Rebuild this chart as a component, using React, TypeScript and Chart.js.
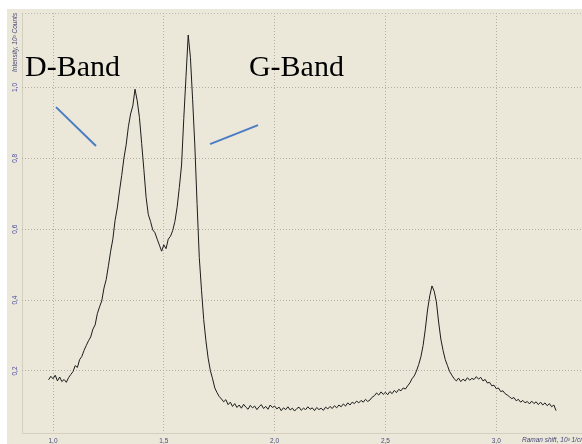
import React, { useEffect, useRef } from "react";
import { Chart, registerables } from "chart.js";

Chart.register(...registerables);

// Raman spectrum, sampled every 0.01 (10^3 1/cm) starting at 0.98
const SHIFT_START = 0.98;
const SHIFT_STEP = 0.01;
const intensity = [
  0.175, 0.185, 0.178, 0.188, 0.172, 0.183, 0.170, 0.176, 0.168, 0.181,
  0.190, 0.198, 0.215, 0.210, 0.232, 0.241, 0.258, 0.272, 0.285, 0.296,
  0.318, 0.330, 0.362, 0.381, 0.398, 0.434, 0.458, 0.497, 0.538, 0.572,
  0.625, 0.660, 0.708, 0.752, 0.801, 0.838, 0.889, 0.925, 0.948, 0.995,
  0.962, 0.915, 0.842, 0.768, 0.690, 0.641, 0.622, 0.598, 0.590, 0.572,
  0.555, 0.538, 0.556, 0.545, 0.572, 0.580, 0.596, 0.622, 0.662, 0.718,
  0.781, 0.912, 1.030, 1.148, 1.085, 0.965, 0.835, 0.672, 0.520, 0.428,
  0.345, 0.285, 0.236, 0.201, 0.178, 0.152, 0.139, 0.128, 0.121, 0.113,
  0.119, 0.105, 0.112, 0.100, 0.108, 0.097, 0.104, 0.095, 0.106, 0.098,
  0.092, 0.103, 0.096, 0.101, 0.091, 0.099, 0.105, 0.094, 0.100, 0.092,
  0.104, 0.097, 0.101, 0.093, 0.098, 0.088, 0.096, 0.091, 0.099, 0.090,
  0.095, 0.087, 0.094, 0.098, 0.089, 0.095, 0.091, 0.099, 0.092, 0.096,
  0.088, 0.097, 0.091, 0.095, 0.089, 0.098, 0.093, 0.100, 0.094, 0.102,
  0.096, 0.104, 0.099, 0.107, 0.101, 0.110, 0.104, 0.112, 0.108, 0.115,
  0.110, 0.117, 0.112, 0.120, 0.114, 0.118, 0.126, 0.130, 0.138, 0.132,
  0.141, 0.134, 0.140, 0.133, 0.142, 0.136, 0.145, 0.139, 0.148, 0.144,
  0.152, 0.149, 0.158, 0.166, 0.178, 0.186, 0.200, 0.218, 0.240, 0.272,
  0.318, 0.372, 0.412, 0.440, 0.425, 0.395, 0.338, 0.290, 0.258, 0.232,
  0.215, 0.198, 0.188, 0.178, 0.172, 0.180, 0.170, 0.177, 0.172, 0.181,
  0.174, 0.179, 0.176, 0.184, 0.177, 0.182, 0.172, 0.176, 0.166, 0.168,
  0.158, 0.160, 0.150, 0.152, 0.142, 0.144, 0.136, 0.132, 0.127, 0.122,
  0.125, 0.116, 0.120, 0.112, 0.117, 0.110, 0.114, 0.107, 0.115, 0.108,
  0.113, 0.105, 0.112, 0.104, 0.110, 0.102, 0.108, 0.099, 0.104, 0.088,
];

const xTickValues = [1.0, 1.5, 2.0, 2.5, 3.0];
const yTickValues = [0.2, 0.4, 0.6, 0.8, 1.0];

const X_MIN = 0.86;
const X_MAX = 3.387;
const Y_MIN = 0.025;
const Y_MAX = 1.21;

const yTitle = "Intensity, 10³ Counts";
const xTitle = "Raman shift, 10³ 1/cm";

// annotations in data coordinates
const bandLabels = [
  { text: "D-Band", x: 0.874, y: 1.032 },
  { text: "G-Band", x: 1.884, y: 1.032 },
];
const pointerLines = [
  { x1: 1.0135, y1: 0.9445, x2: 1.194, y2: 0.8345 },
  { x1: 1.7085, y1: 0.84, x2: 1.925, y2: 0.8937 },
];

const fmt = (v: number) => v.toFixed(1).replace(".", ",");

export default function App() {
  const ref = useRef<HTMLCanvasElement | null>(null);

  useEffect(() => {
    if (!ref.current) return;
    const points = intensity.map((y, i) => ({
      x: SHIFT_START + i * SHIFT_STEP,
      y,
    }));

    const framePlugin = {
      id: "frame",
      beforeDraw(chart: any) {
        const { ctx, width, height, chartArea: a } = chart;
        ctx.save();
        ctx.fillStyle = "#ffffff";
        ctx.fillRect(0, 0, width, height);
        ctx.fillStyle = "#ebe8d9";
        ctx.fillRect(7, 9, width - 7, height - 9);
        ctx.strokeStyle = "#d2cfc1";
        ctx.lineWidth = 1;
        ctx.beginPath();
        ctx.moveTo(a.left + 0.5, a.top);
        ctx.lineTo(a.left + 0.5, a.bottom + 0.5);
        ctx.lineTo(a.right, a.bottom + 0.5);
        ctx.stroke();
        ctx.strokeStyle = "#bdbaae";
        ctx.setLineDash([1, 2]);
        ctx.beginPath();
        ctx.moveTo(a.left, a.top + 0.5);
        ctx.lineTo(a.right, a.top + 0.5);
        ctx.stroke();
        ctx.restore();
      },
      afterDraw(chart: any) {
        const { ctx } = chart;
        const xs = chart.scales.x;
        const ys = chart.scales.y;
        ctx.save();
        ctx.fillStyle = "#46467a";
        ctx.font = 'italic 6.5px "Liberation Sans", Arial, sans-serif';
        ctx.textBaseline = "middle";
        ctx.textAlign = "left";
        ctx.fillText(xTitle, 522, 440);
        ctx.save();
        ctx.translate(15, 72);
        ctx.rotate(-Math.PI / 2);
        ctx.fillText(yTitle, 0, 0);
        ctx.restore();
        ctx.fillStyle = "#000000";
        ctx.font = '30px "Liberation Serif", "Times New Roman", serif';
        ctx.textBaseline = "alphabetic";
        bandLabels.forEach((b) => {
          ctx.fillText(b.text, xs.getPixelForValue(b.x), ys.getPixelForValue(b.y));
        });
        ctx.strokeStyle = "#4a7cc4";
        ctx.lineWidth = 2;
        pointerLines.forEach((l) => {
          ctx.beginPath();
          ctx.moveTo(xs.getPixelForValue(l.x1), ys.getPixelForValue(l.y1));
          ctx.lineTo(xs.getPixelForValue(l.x2), ys.getPixelForValue(l.y2));
          ctx.stroke();
        });
        ctx.restore();
      },
    };

    const tickFont = { size: 6.5, family: '"Liberation Sans", Arial, sans-serif' };

    const chart = new Chart(ref.current, {
      type: "line",
      data: {
        datasets: [
          {
            data: points,
            borderColor: "#1c1c1c",
            borderWidth: 1,
            pointRadius: 0,
            tension: 0,
            fill: false,
          },
        ],
      },
      options: {
        animation: false,
        responsive: false,
        maintainAspectRatio: false,
        parsing: false,
        layout: { padding: { left: 0, top: 13, right: 0, bottom: 0 } },
        plugins: {
          legend: { display: false },
          tooltip: { enabled: false },
        },
        scales: {
          x: {
            type: "linear",
            min: X_MIN,
            max: X_MAX,
            afterBuildTicks: (s: any) => {
              s.ticks = xTickValues.map((v) => ({ value: v }));
            },
            afterFit: (s: any) => {
              s.height = 11;
            },
            grid: { color: "#b3b0a3", lineWidth: 1, drawTicks: false },
            border: { display: false, dash: [1, 2] },
            ticks: {
              padding: 4,
              color: "#4a4a7e",
              font: tickFont,
              callback: (v: any) => fmt(Number(v)),
              maxRotation: 0,
              minRotation: 0,
            },
          },
          y: {
            type: "linear",
            min: Y_MIN,
            max: Y_MAX,
            afterBuildTicks: (s: any) => {
              s.ticks = yTickValues.map((v) => ({ value: v }));
            },
            afterFit: (s: any) => {
              s.width = 22;
            },
            grid: { color: "#b3b0a3", lineWidth: 1, drawTicks: false },
            border: { display: false, dash: [1, 2] },
            ticks: {
              padding: 2.5,
              crossAlign: "center",
              minRotation: 90,
              maxRotation: 90,
              color: "#4848a0",
              font: tickFont,
              callback: (v: any) => fmt(Number(v)),
            },
          },
        },
      } as any,
      plugins: [framePlugin],
    });

    return () => chart.destroy();
  }, []);

  return (
    <div style={{ position: "absolute", left: 0, top: 0, width: 582, height: 444 }}>
      <canvas ref={ref} width={582} height={444} style={{ display: "block", width: 582, height: 444 }} />
    </div>
  );
}
